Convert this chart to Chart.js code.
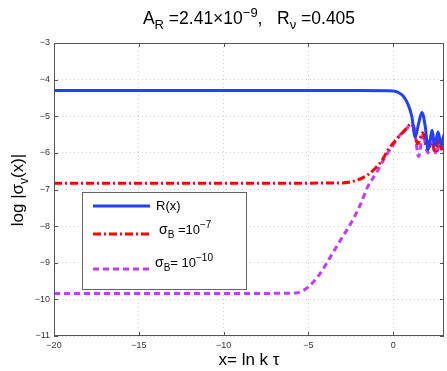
<!DOCTYPE html>
<html>
<head>
<meta charset="utf-8">
<script src="https://cdn.jsdelivr.net/npm/chart.js@4/dist/chart.umd.min.js"></script>
<style>
  body { margin: 0; background: #fff; }
  canvas { display: block; }
</style>
</head>
<body>
<canvas id="sigmaChart" width="447" height="371"></canvas>
<script>
// R(x)
var xR = [-20, -10, -2, 0, 0.3, 0.6, 0.9, 1.1, 1.3, 1.5, 1.7, 1.9, 2.06, 2.2, 2.3, 2.45, 2.65, 2.83, 3];
var yR = [-4.3, -4.3, -4.3, -4.31, -4.35, -4.45, -4.7, -5.0, -5.57, -5.2, -4.9, -5.3, -5.92, -5.6, -5.38, -5.8, -5.43, -5.8, -5.5];
// sigma_B = 1e-7
var xB7 = [-20, -10, -3, -2.1, -1.5, -1.05, -0.65, -0.3, 0.25, 0.7, 1.1, 1.45, 1.75, 2.0, 2.2, 2.5, 2.7, 2.85, 3];
var yB7 = [-6.83, -6.83, -6.82, -6.74, -6.6, -6.42, -6.2, -5.92, -5.6, -5.38, -5.2, -5.75, -5.45, -5.85, -5.6, -6.0, -5.6, -5.9, -5.7];
// sigma_B = 1e-10
var xB10 = [-20, -10, -6, -5.5, -5, -4.3, -3.7, -3.1, -2.5, -1.95, -1.5, -0.95, -0.47, 0, 0.5, 1.2, 1.5, 1.75, 2.05, 2.3, 2.55, 2.75, 3];
var yB10 = [-9.84, -9.84, -9.83, -9.8, -9.66, -9.29, -8.84, -8.38, -7.93, -7.43, -6.93, -6.52, -6.11, -5.79, -5.46, -5.25, -6.1, -5.5, -6.0, -5.6, -6.05, -5.6, -5.9];

var xTicks = [-20, -15, -10, -5, 0];
var yTicks = [-11, -10, -9, -8, -7, -6, -5, -4, -3];

var FONT = '"Liberation Sans", Arial, sans-serif';

function pts(xs, ys) {
  return xs.map(function (x, i) { return { x: x, y: ys[i] }; });
}

function minus(v) {
  return String(v).replace('-', '\u2212');
}

// draw text pieces with sub/superscripts, returns width
function richText(c, x, y, parts, measureOnly) {
  var w = 0;
  parts.forEach(function (p) {
    c.font = p.s + 'px ' + FONT;
    if (!measureOnly) c.fillText(p.t, x + w, y + (p.dy || 0));
    w += c.measureText(p.t).width;
  });
  return w;
}

var decorations = {
  id: 'decorations',
  afterDraw: function (chart) {
    var c = chart.ctx;
    var a = chart.chartArea;
    var sx = chart.scales.x, sy = chart.scales.y;
    c.save();

    // box
    c.strokeStyle = '#555';
    c.lineWidth = 1;
    c.strokeRect(a.left + 0.5, a.top + 0.5, a.right - a.left - 1, a.bottom - a.top - 1);

    // inward ticks
    c.beginPath();
    xTicks.forEach(function (v) {
      var px = Math.round(sx.getPixelForValue(v)) + 0.5;
      c.moveTo(px, a.bottom); c.lineTo(px, a.bottom - 4);
      c.moveTo(px, a.top); c.lineTo(px, a.top + 4);
    });
    yTicks.forEach(function (v) {
      var py = Math.round(sy.getPixelForValue(v)) + 0.5;
      c.moveTo(a.left, py); c.lineTo(a.left + 4, py);
      c.moveTo(a.right, py); c.lineTo(a.right - 4, py);
    });
    c.stroke();

    c.fillStyle = '#000';
    c.textBaseline = 'alphabetic';
    c.textAlign = 'left';

    // title
    var title = [
      { t: 'A', s: 17.5 }, { t: 'R', s: 13 }, { t: ' =2.41\u00d710', s: 17.5 },
      { t: '\u22129', s: 13 }, { t: ',   R', s: 17.5 }, { t: '\u03bd', s: 13 },
      { t: ' =0.405', s: 17.5 }
    ];
    title[1].dy = 5; title[3].dy = -7; title[5].dy = 5;
    var tw = richText(c, 0, 0, title, true);
    richText(c, 249 - tw / 2, 24, title);

    // x label
    var xl = [{ t: 'x= ln k \u03c4', s: 17 }];
    var xw = richText(c, 0, 0, xl, true);
    richText(c, 249 - xw / 2, 365, xl);

    // y label
    var yl = [{ t: 'log |\u03c3', s: 17 }, { t: 'v', s: 12, dy: 5 }, { t: '(x)|', s: 17 }];
    var yw = richText(c, 0, 0, yl, true);
    c.save();
    c.translate(23, 190);
    c.rotate(-Math.PI / 2);
    richText(c, -yw / 2, 0, yl);
    c.restore();

    // legend
    var lx = 82, ly = 192, lw = 164, lh = 97;
    c.fillStyle = '#fff';
    c.fillRect(lx, ly, lw, lh);
    c.strokeStyle = '#666';
    c.strokeRect(lx + 0.5, ly + 0.5, lw, lh);
    var ds = chart.data.datasets;
    var rows = [
      { y: 206, ty: 210, tx: 156, parts: [{ t: 'R(x)', s: 13 }] },
      { y: 234, ty: 234, tx: 159, parts: [{ t: '\u03c3', s: 14 }, { t: 'B', s: 10, dy: 4 }, { t: ' =10', s: 13 }, { t: '\u22127', s: 10, dy: -6 }] },
      { y: 269, ty: 267, tx: 155, parts: [{ t: '\u03c3', s: 14 }, { t: 'B', s: 10, dy: 4 }, { t: '= 10', s: 13 }, { t: '\u221210', s: 10, dy: -6 }] }
    ];
    rows.forEach(function (r, i) {
      c.save();
      c.strokeStyle = ds[i].borderColor;
      c.lineWidth = ds[i].borderWidth;
      c.setLineDash(ds[i].borderDash || []);
      c.beginPath();
      c.moveTo(93, r.y);
      c.lineTo(150, r.y);
      c.stroke();
      c.restore();
      c.fillStyle = '#000';
      richText(c, r.tx, r.ty, r.parts);
    });

    c.restore();
  }
};

var ctx = document.getElementById('sigmaChart').getContext('2d');
var sigmaChart = new Chart(ctx, {
  type: 'line',
  data: {
    datasets: [{
      label: 'R(x)',
      data: pts(xR, yR),
      borderColor: '#2140ff',
      borderWidth: 3,
      pointRadius: 0,
      cubicInterpolationMode: 'monotone'
    }, {
      label: 'sigma_B=1e-7',
      data: pts(xB7, yB7),
      borderColor: '#ff0000',
      borderWidth: 3,
      borderDash: [8, 3, 2, 3],
      pointRadius: 0,
      cubicInterpolationMode: 'monotone'
    }, {
      label: 'sigma_B=1e-10',
      data: pts(xB10, yB10),
      borderColor: '#c13cff',
      borderWidth: 3,
      borderDash: [6, 4],
      pointRadius: 0,
      cubicInterpolationMode: 'monotone'
    }]
  },
  options: {
    responsive: false,
    animation: false,
    layout: { padding: { top: 43, right: 3, left: 0, bottom: 0 } },
    plugins: { legend: { display: false }, title: { display: false }, tooltip: { enabled: false } },
    scales: {
      x: {
        type: 'linear',
        min: -20,
        max: 3,
        afterFit: function (s) { s.height = 35; },
        afterBuildTicks: function (s) { s.ticks = xTicks.map(function (v) { return { value: v }; }); },
        grid: { color: '#cfcfcf', drawTicks: false, lineWidth: 1 },
        border: { display: false, dash: [1, 3] },
        ticks: { padding: 4, color: '#333', font: { size: 9, family: FONT }, callback: minus, maxRotation: 0 }
      },
      y: {
        type: 'linear',
        min: -11,
        max: -3,
        afterFit: function (s) { s.width = 54; },
        afterBuildTicks: function (s) { s.ticks = yTicks.map(function (v) { return { value: v }; }); },
        grid: { color: '#cfcfcf', drawTicks: false, lineWidth: 1 },
        border: { display: false, dash: [1, 3] },
        ticks: { padding: 4, color: '#333', font: { size: 9, family: FONT }, callback: minus }
      }
    }
  },
  plugins: [decorations]
});
</script>
</body>
</html>
